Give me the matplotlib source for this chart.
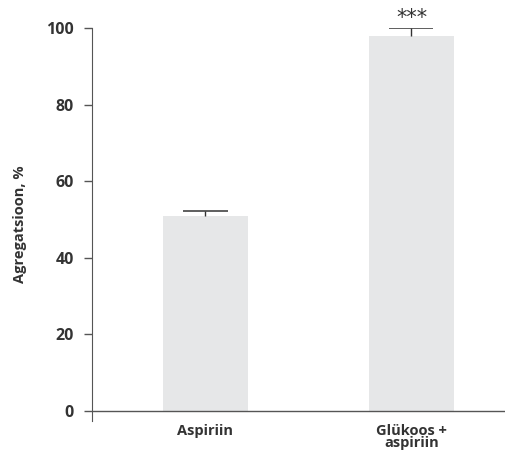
import matplotlib
matplotlib.use("Agg")
import matplotlib.pyplot as plt

# Andmed
categories = ["Aspiriin", "Glükoos +\naspiriin"]
values = [51, 98]
errors = [1.3, 2.1]
yticks = [0, 20, 40, 60, 80, 100]

plt.rcParams['font.family'] = ['Open Sans', 'DejaVu Sans']

fig = plt.figure(figsize=(5.06, 4.51), dpi=100)
ax = fig.add_axes([92 / 506, 1 - 421 / 451, 1 - 92 / 506, (421 - 28) / 451])

x = list(range(len(categories)))
ax.bar(x, values, width=0.413, color='#e6e7e8', zorder=1)

# ainult ülespoole veapiirid
for xi, v, e in zip(x, values, errors):
    ax.vlines(xi, v, v + e, color='#333333', linewidth=1, zorder=2)
    ax.hlines(v + e, xi - 0.107, xi + 0.107, color='#333333', linewidth=1.1, zorder=2)

ax.axhline(0, color='#555555', linewidth=1, zorder=3)

ax.set_xlim(-0.551, 1.459)
ax.set_ylim(-2.6, 100)
for s in ['top', 'right', 'bottom']:
    ax.spines[s].set_visible(False)
ax.spines['left'].set_color('#555555')
ax.spines['left'].set_bounds(-2.6, 100)

ax.set_yticks(yticks)
ax.set_yticklabels([str(t) for t in yticks], fontsize=11.5, fontweight='bold', color='#333333')
ax.tick_params(axis='y', length=6, width=1, color='#555555', pad=7)
ax.set_xticks(x)
ax.set_xticklabels(categories, fontsize=10.5, fontweight='bold', color='#333333',
                   linespacing=0.85, va='top')
ax.tick_params(axis='x', length=0, pad=2)

ax.set_ylabel('Agregatsioon, %', fontsize=10.5, fontweight='bold', color='#333333', labelpad=14)

# olulisuse tärnid
ax.text(1, values[1] + errors[1] - 0.2, '***', ha='center', va='bottom',
        fontsize=15, color='#333333', family='DejaVu Sans', clip_on=False)

fig.savefig('out.png', dpi=100)
